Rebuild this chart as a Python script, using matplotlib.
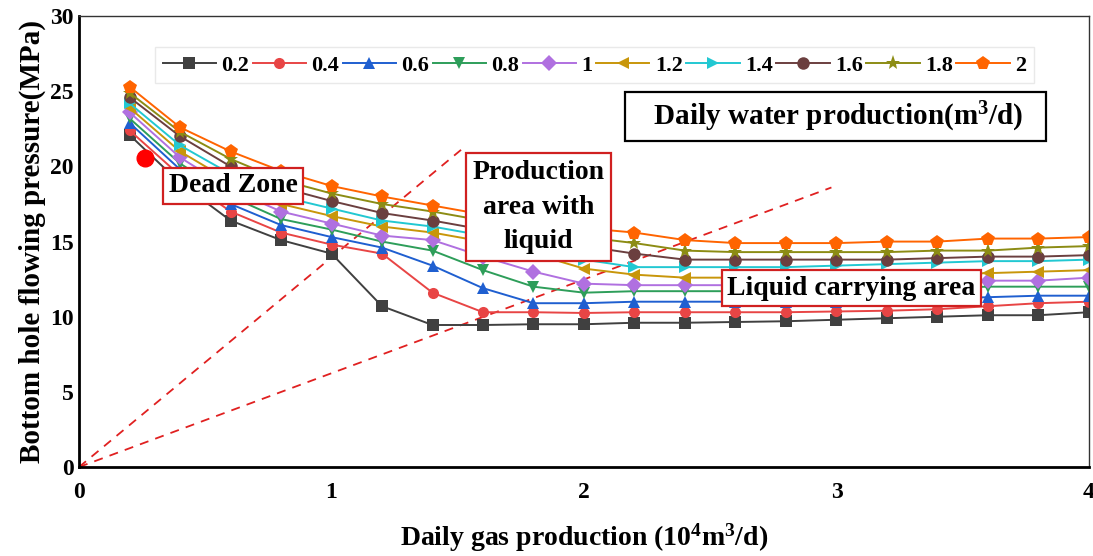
import matplotlib
matplotlib.use('Agg')
import matplotlib.pyplot as plt

plt.rcParams['font.family'] = ['Liberation Serif', 'DejaVu Serif']
plt.rcParams['font.weight'] = 'bold'
plt.rcParams['axes.labelweight'] = 'bold'
plt.rcParams['mathtext.fontset'] = 'custom'
plt.rcParams['mathtext.rm'] = 'Liberation Serif:bold'
plt.rcParams['mathtext.default'] = 'rm'

# daily gas production (10^4 m3/d)
gas = [0.2, 0.4, 0.6, 0.8, 1.0, 1.2, 1.4, 1.6, 1.8, 2.0,
       2.2, 2.4, 2.6, 2.8, 3.0, 3.2, 3.4, 3.6, 3.8, 4.0]

# bottom hole flowing pressure (MPa) for each daily water production (m3/d)
water_labels = ['0.2', '0.4', '0.6', '0.8', '1', '1.2', '1.4', '1.6', '1.8', '2']
p_02 = [22.1, 18.9, 16.4, 15.1, 14.2, 10.7, 9.45, 9.45, 9.5, 9.5,
        9.6, 9.6, 9.65, 9.7, 9.8, 9.9, 10.0, 10.1, 10.1, 10.3]
p_04 = [22.4, 19.4, 17.0, 15.6, 14.8, 14.2, 11.6, 10.3, 10.3, 10.25,
        10.3, 10.3, 10.3, 10.3, 10.35, 10.4, 10.5, 10.7, 10.9, 11.0]
p_06 = [22.9, 19.8, 17.5, 16.1, 15.3, 14.6, 13.4, 11.9, 10.9, 10.9,
        11.0, 11.0, 11.0, 11.0, 11.0, 11.1, 11.2, 11.3, 11.4, 11.4]
p_08 = [23.2, 20.2, 18.0, 16.5, 15.8, 15.0, 14.4, 13.1, 12.0, 11.6,
        11.7, 11.7, 11.7, 11.7, 11.8, 11.8, 11.9, 12.0, 12.0, 12.0]
p_10 = [23.6, 20.6, 18.5, 17.0, 16.2, 15.4, 15.1, 14.0, 13.0, 12.2,
        12.1, 12.1, 12.1, 12.1, 12.2, 12.2, 12.3, 12.4, 12.4, 12.6]
p_12 = [23.9, 21.0, 19.0, 17.5, 16.7, 16.0, 15.6, 15.0, 14.2, 13.2,
        12.8, 12.6, 12.6, 12.6, 12.7, 12.7, 12.8, 12.9, 13.0, 13.1]
p_14 = [24.2, 21.4, 19.5, 18.0, 17.2, 16.4, 16.0, 15.4, 14.6, 13.8,
        13.3, 13.3, 13.3, 13.3, 13.4, 13.5, 13.6, 13.7, 13.7, 13.8]
p_16 = [24.6, 22.0, 20.0, 18.6, 17.7, 16.9, 16.4, 15.8, 15.2, 14.7,
        14.2, 13.8, 13.8, 13.8, 13.8, 13.8, 13.9, 14.0, 14.0, 14.1]
p_18 = [24.9, 22.3, 20.5, 19.1, 18.2, 17.5, 17.0, 16.4, 15.8, 15.3,
        14.9, 14.4, 14.3, 14.3, 14.3, 14.3, 14.4, 14.4, 14.6, 14.7]
p_20 = [25.3, 22.6, 21.0, 19.7, 18.7, 18.0, 17.4, 16.8, 16.3, 15.9,
        15.6, 15.1, 14.9, 14.9, 14.9, 15.0, 15.0, 15.2, 15.2, 15.3]
series = [p_02, p_04, p_06, p_08, p_10, p_12, p_14, p_16, p_18, p_20]

colors = ['#404040', '#e84545', '#1f5fd0', '#2e9e5a', '#b070e0',
          '#c8960a', '#22c8d2', '#6b3f3f', '#8c8c14', '#ff6400']
markers = ['s', 'o', '^', 'v', 'D', '<', '>', 'o', '*', 'p']
msizes = [8, 8, 9, 9, 8, 9, 9, 9, 11, 10]

# region boundaries (dashed)
bound1_x = [0, 1.52]
bound1_y = [0, 21.2]
bound2_x = [0, 2.98]
bound2_y = [0, 18.6]
stray_x = [0.26]
stray_y = [20.55]

fig = plt.figure(figsize=(10.93, 5.56), dpi=100)
ax = fig.add_axes([0.0723, 0.160, 0.9240, 0.811])

ax.plot(bound1_x, bound1_y, '--', color='#e02020', lw=1.3, dashes=(5, 4), zorder=1)
ax.plot(bound2_x, bound2_y, '--', color='#e02020', lw=1.3, dashes=(5, 4), zorder=1)

for lab, vals, c, m, ms in zip(water_labels, series, colors, markers, msizes):
    ax.plot(gas, vals, color=c, marker=m, markersize=ms, lw=1.4, label=lab,
            markeredgewidth=0, zorder=2)

ax.plot(stray_x, stray_y, 'o', color='#ff0000', markersize=12, zorder=3)

ax.set_xlim(0, 4)
ax.set_ylim(0, 30)
ax.set_xticks([0, 1, 2, 3, 4])
ax.set_yticks([0, 5, 10, 15, 20, 25, 30])
ax.tick_params(length=0, labelsize=17)
ax.tick_params(axis='x', pad=11)
ax.tick_params(axis='y', pad=4)
for s in ['left', 'bottom']:
    ax.spines[s].set_linewidth(2)
    ax.spines[s].set_color('black')
for s in ['top', 'right']:
    ax.spines[s].set_linewidth(1)
    ax.spines[s].set_color('#333333')

ax.set_xlabel('Daily gas production (10$^{4}$m$^{3}$/d)', fontsize=20, labelpad=13)
ax.set_ylabel('Bottom hole flowing pressure(MPa)', fontsize=21, labelpad=3)

leg = ax.legend(loc='upper left', bbox_to_anchor=(0.075, 0.931), ncol=10,
                fontsize=16, handlelength=2.4, handletextpad=0.25,
                columnspacing=0.15, frameon=True, fancybox=False,
                borderaxespad=0, borderpad=0.35)
leg.get_frame().set_edgecolor('#e4e4e4')
leg.get_frame().set_linewidth(1)

ax.text(2.996, 23.3, '   Daily water production(m$^{3}$/d)   ', fontsize=21,
        ha='center', va='center',
        bbox=dict(boxstyle='square,pad=0.25', fc='white', ec='black', lw=1.6))
ax.text(0.61, 18.7, 'Dead Zone', fontsize=20, ha='center', va='center',
        bbox=dict(boxstyle='square,pad=0.2', fc='white', ec='#d02020', lw=1.6))
ax.text(1.82, 17.3, 'Production\narea with\nliquid', fontsize=20,
        ha='center', va='center', linespacing=1.5,
        bbox=dict(boxstyle='square,pad=0.25', fc='white', ec='#d02020', lw=1.6))
ax.text(3.06, 11.9, 'Liquid carrying area', fontsize=20, ha='center', va='center',
        bbox=dict(boxstyle='square,pad=0.2', fc='white', ec='#d02020', lw=1.6))

fig.savefig('out.png', dpi=100)
